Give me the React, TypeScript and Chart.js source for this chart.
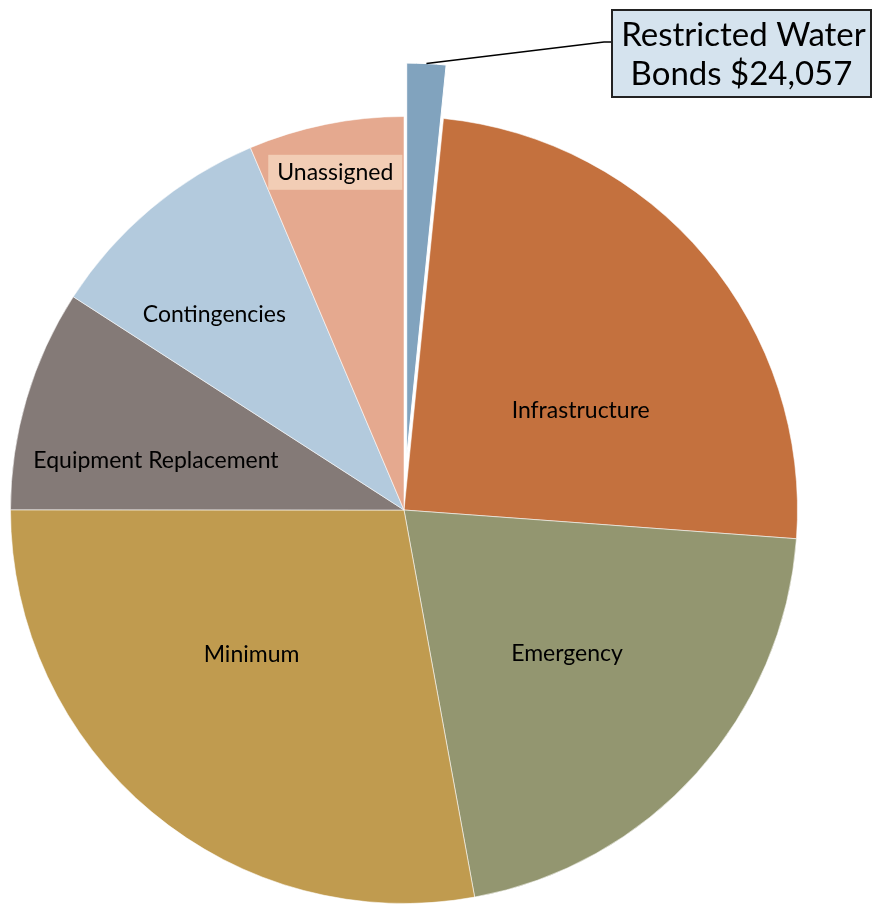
import React, { useEffect, useRef } from "react";
import { Chart, registerables } from "chart.js";

Chart.register(...registerables);

const categories = [
  "Restricted Water Bonds",
  "Infrastructure",
  "Emergency",
  "Minimum",
  "Equipment Replacement",
  "Contingencies",
  "Unassigned",
];
const values = [24057, 369600, 315400, 419500, 137000, 143000, 96000];
const colors = ["#81A3BE", "#C4713E", "#939670", "#C09B4F", "#847A77", "#B3CADD", "#E5A98F"];
const explode = [214, 0, 0, 0, 0, 0, 0];
// label placement: radial fraction of radius, angular shift (deg) from slice mid-angle
const labelRadius = [0, 0.516, 0.551, 0.532, 0.643, 0.694, 0.877];
const labelShift = [0, 10.5, -0.7, 6.9, -5, -3.9, 0];

const FONT = "Lato, 'Open Sans', sans-serif";

const fmt = (v: number) => "$" + v.toLocaleString("en-US");

const piePlugin = {
  id: "pieExtras",
  beforeDatasetsDraw(chart: any) {
    const meta = chart.getDatasetMeta(0);
    const R = (meta.controller as any).outerRadius;
    meta.data.forEach((arc: any, i: number) => {
      const off = explode[i];
      if (!off) return;
      const fix = 1 - Math.sin(Math.min(Math.PI, arc.circumference));
      const ro = (off / 4) * fix;
      const ao = ro / (2 * Math.PI * R);
      arc.$saved = { outerRadius: arc.outerRadius, startAngle: arc.startAngle, endAngle: arc.endAngle };
      arc.outerRadius = R - ro;
      arc.startAngle = arc.startAngle - ao;
      arc.endAngle = arc.endAngle + ao;
    });
  },
  afterDatasetsDraw(chart: any) {
    const ctx = chart.ctx as CanvasRenderingContext2D;
    const meta = chart.getDatasetMeta(0);
    const R = (meta.controller as any).outerRadius;
    meta.data.forEach((arc: any) => {
      if (arc.$saved) {
        Object.assign(arc, arc.$saved);
        arc.$saved = null;
      }
    });
    ctx.save();
    ctx.textAlign = "center";
    ctx.textBaseline = "middle";
    meta.data.forEach((arc: any, i: number) => {
      if (i === 0) return;
      const mid = (arc.startAngle + arc.endAngle) / 2 + (labelShift[i] * Math.PI) / 180;
      const x = arc.x + Math.cos(mid) * labelRadius[i] * R;
      const y = arc.y + Math.sin(mid) * labelRadius[i] * R;
      ctx.font = `23px ${FONT}`;
      if (i === 6) {
        const w = ctx.measureText(categories[i]).width;
        ctx.fillStyle = "#F2CDB5";
        ctx.fillRect(x - w / 2 - 9, y - 17, w + 18, 35);
      }
      ctx.fillStyle = "#000";
      ctx.fillText(categories[i], x, y + 1);
    });

    // callout for exploded slice
    const a0: any = meta.data[0];
    const midA = (a0.startAngle + a0.endAngle) / 2;
    const t = explode[0] / 4;
    const sx = a0.x + Math.cos(midA) * (t + R);
    const sy = a0.y + Math.sin(midA) * (t + R);
    const bx = 612, by = 10, bw = 259, bh = 87;
    ctx.strokeStyle = "#000";
    ctx.lineWidth = 1.5;
    ctx.beginPath();
    ctx.moveTo(sx, sy);
    ctx.lineTo(bx - 8, by + 32);
    ctx.lineTo(bx, by + 32);
    ctx.stroke();
    ctx.fillStyle = "#D5E3EE";
    ctx.fillRect(bx, by, bw, bh);
    ctx.lineWidth = 2;
    ctx.strokeStyle = "#222";
    ctx.strokeRect(bx, by, bw, bh);
    ctx.fillStyle = "#000";
    ctx.font = `33px ${FONT}`;
    ctx.fillText("Restricted Water", bx + bw / 2 + 2, by + 25);
    ctx.fillText("Bonds " + fmt(values[0]), bx + bw / 2, by + 64);
    ctx.restore();
  },
};

export default function App() {
  const ref = useRef<HTMLCanvasElement>(null);
  useEffect(() => {
    document.body.style.margin = "0";
    const chart = new Chart(ref.current!, {
      type: "pie",
      data: {
        labels: categories,
        datasets: [
          {
            data: values,
            backgroundColor: colors,
            borderColor: ["#ffffff", "rgba(255,255,255,0.55)", "rgba(255,255,255,0.55)", "rgba(255,255,255,0.55)", "rgba(255,255,255,0.55)", "rgba(255,255,255,0.55)", "rgba(255,255,255,0.55)"],
            borderWidth: [1, 1, 1, 1, 1, 1, 1],
            offset: explode,
          },
        ],
      },
      options: {
        animation: false,
        responsive: false,
        radius: 393.5,
        layout: { padding: { left: 0, right: 66, top: 111, bottom: 0 } },
        plugins: { legend: { display: false }, tooltip: { enabled: false } },
      } as any,
      plugins: [piePlugin],
    });
    return () => chart.destroy();
  }, []);
  return (
    <div style={{ width: 874, height: 909 }}>
      <canvas ref={ref} width={874} height={909} />
    </div>
  );
}
